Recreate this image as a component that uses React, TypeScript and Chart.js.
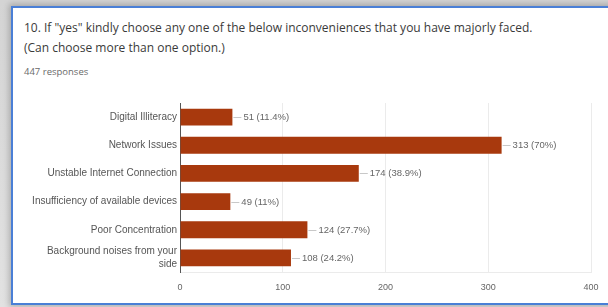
import React, { useEffect, useRef } from "react";
import { Chart, registerables } from "chart.js";

Chart.register(...registerables);

const categories: (string | string[])[] = [
  "Digital Illiteracy",
  "Network Issues",
  "Unstable Internet Connection",
  "Insufficiency of available devices",
  "Poor Concentration",
  ["Background noises from your", "side"],
];
const counts = [51, 313, 174, 49, 124, 108];
const percents = ["11.4%", "70%", "38.9%", "11%", "27.7%", "24.2%"];
const xTicks = [0, 100, 200, 300, 400];

const BAR_COLOR = "#a8390d";
const CHART_FONT = "'Liberation Sans', Arial, sans-serif";

const valueLabels = {
  id: "valueLabels",
  afterDatasetsDraw(chart: any) {
    const ctx = chart.ctx;
    const meta = chart.getDatasetMeta(0);
    ctx.save();
    ctx.font = `9.5px ${CHART_FONT}`;
    ctx.textBaseline = "middle";
    meta.data.forEach((bar: any, i: number) => {
      const x = bar.x;
      const y = Math.round(bar.y);
      ctx.strokeStyle = "#c8c8c8";
      ctx.lineWidth = 1;
      ctx.beginPath();
      ctx.moveTo(x + 1, y + 0.5);
      ctx.lineTo(x + 9, y + 0.5);
      ctx.stroke();
      ctx.fillStyle = "#666";
      ctx.fillText(`${counts[i]} (${percents[i]})`, x + 11, y + 0.5);
    });
    ctx.restore();
  },
};

function BarChart() {
  const ref = useRef<HTMLCanvasElement>(null);
  useEffect(() => {
    if (!ref.current) return;
    const chart = new Chart(ref.current, {
      type: "bar",
      data: {
        labels: categories as any,
        datasets: [
          {
            data: counts,
            backgroundColor: BAR_COLOR,
            borderWidth: 0,
            barPercentage: 0.6,
            categoryPercentage: 1,
          },
        ],
      },
      options: {
        indexAxis: "y",
        animation: false,
        responsive: false,
        maintainAspectRatio: false,
        layout: { padding: { top: 3, bottom: 3, right: 17, left: 0 } },
        plugins: {
          legend: { display: false },
          tooltip: { enabled: false },
        },
        scales: {
          x: {
            min: 0,
            max: 400,
            afterBuildTicks: (scale: any) => {
              scale.ticks = xTicks.map((v) => ({ value: v }));
            },
            afterFit: (scale: any) => {
              scale.height = 25;
              scale.paddingLeft = 0;
              scale.paddingRight = 0;
            },
            grid: { color: "#ebebeb", drawTicks: false },
            border: { color: "#ebebeb" },
            ticks: {
              autoSkip: false,
              maxRotation: 0,
              padding: 10,
              color: "#666",
              font: { size: 9, family: CHART_FONT },
            },
          },
          y: {
            afterFit: (scale: any) => {
              scale.width = 160;
              scale.paddingTop = 0;
              scale.paddingBottom = 0;
            },
            grid: { display: false, drawTicks: false },
            border: { color: "#555" },
            ticks: {
              autoSkip: false,
              padding: 3,
              color: "#555",
              font: { size: 10, family: CHART_FONT, lineHeight: 1.3 },
            },
          },
        },
      },
      plugins: [valueLabels],
    });
    return () => chart.destroy();
  }, []);
  return <canvas ref={ref} width={588} height={200} style={{ display: "block" }} />;
}

export default function App() {
  return (
    <div
      style={{
        position: "fixed",
        left: 0,
        top: 0,
        width: 608,
        height: 307,
        overflow: "hidden",
        background: "linear-gradient(#d4d4d4, #e2e2e2)",
        fontFamily: "'Open Sans', Roboto, Arial, sans-serif",
      }}
    >
      <div
        style={{
          position: "absolute",
          left: 11,
          top: 6,
          width: 620,
          height: 295,
          background: "#fff",
          border: "2px solid #4a7fd6",
          boxShadow: "0 0 6px 2px rgba(0,0,0,0.22)",
        }}
      />
      <div
        style={{
          position: "absolute",
          left: 24,
          top: 18,
          fontSize: 12,
          lineHeight: "20px",
          color: "#3a3a3a",
          whiteSpace: "nowrap",
        }}
      >
        10. If "yes" kindly choose any one of the below inconveniences that you have majorly faced.
        <br />
        (Can choose more than one option.)
      </div>
      <div
        style={{
          position: "absolute",
          left: 24,
          top: 65,
          fontSize: 9.5,
          lineHeight: "14px",
          color: "#6a6a6a",
        }}
      >
        447 responses
      </div>
      <div style={{ position: "absolute", left: 20, top: 100 }}>
        <BarChart />
      </div>
    </div>
  );
}
